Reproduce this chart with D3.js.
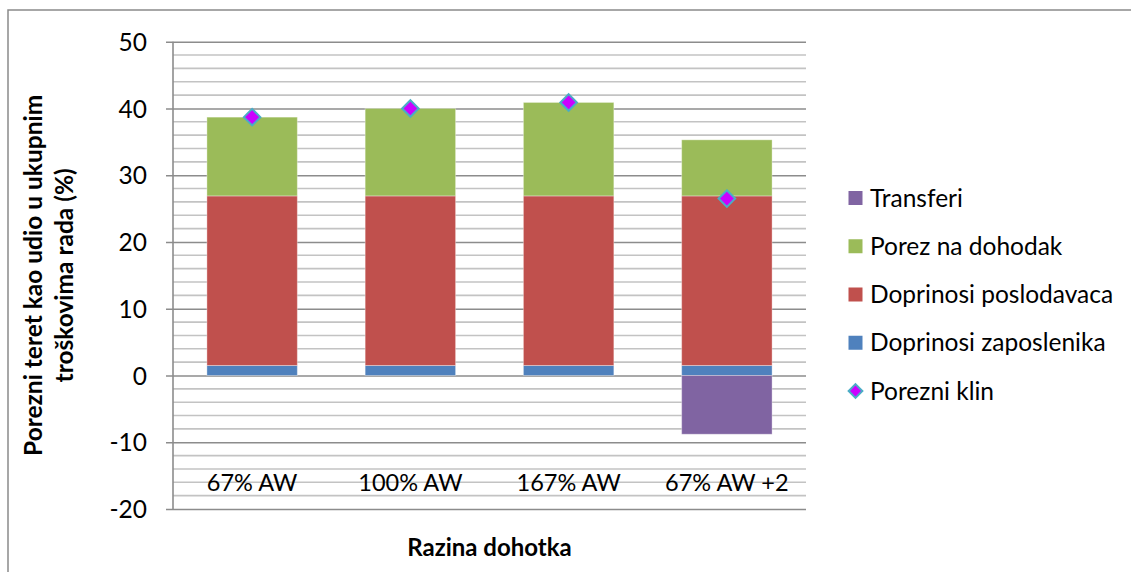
<!DOCTYPE html>
<html>
<head>
<meta charset="utf-8">
<script src="https://cdn.jsdelivr.net/npm/d3@7"></script>
<style>
  html, body { margin: 0; padding: 0; background: #fff; }
  svg { display: block; font-family: Lato, "Open Sans", sans-serif; }
</style>
</head>
<body>
<svg id="chart" width="1131" height="572"></svg>
<script>
const categories = ["67% AW", "100% AW", "167% AW", "67% AW +2"];
const doprinosiZaposlenika = [1.5, 1.5, 1.5, 1.5];
const doprinosiPoslodavaca = [25.4, 25.4, 25.4, 25.4];
const porezNaDohodak = [11.8, 13.1, 14.0, 8.4];
const transferi = [0, 0, 0, -8.8];
const porezniKlin = [38.7, 40.0, 40.9, 26.5];
const yTicks = [-20, -10, 0, 10, 20, 30, 40, 50];
const seriesNames = ["Doprinosi zaposlenika", "Doprinosi poslodavaca", "Porez na dohodak", "Transferi"];
const legendNames = ["Transferi", "Porez na dohodak", "Doprinosi poslodavaca", "Doprinosi zaposlenika", "Porezni klin"];
const yTitleLines = ["Porezni teret kao udio u ukupnim", "troškovima rada (%)"];
const xTitle = "Razina dohotka";

const colors = {
  "Doprinosi zaposlenika": "#4f81bd",
  "Doprinosi poslodavaca": "#c0504d",
  "Porez na dohodak": "#9bbb59",
  "Transferi": "#8064a2"
};

const rows = categories.map((c, i) => ({
  cat: c,
  "Doprinosi zaposlenika": doprinosiZaposlenika[i],
  "Doprinosi poslodavaca": doprinosiPoslodavaca[i],
  "Porez na dohodak": porezNaDohodak[i],
  "Transferi": transferi[i],
  klin: porezniKlin[i]
}));

const svg = d3.select("#chart");
const plot = { left: 173, right: 806, top: 41.7, bottom: 509 };

// chart frame
svg.append("rect")
  .attr("x", 8).attr("y", 10).attr("width", 1140).attr("height", 600)
  .attr("fill", "none").attr("stroke", "#8a8a8a").attr("stroke-width", 1.5);

const x = d3.scaleBand().domain(categories)
  .range([plot.left, plot.right])
  .paddingInner(0.75 / 1.75).paddingOuter(0.375 / 1.75);
const y = d3.scaleLinear().domain([-20, 50]).range([plot.bottom, plot.top]);

// minor gridlines
const minor = d3.range(-20, 51, 2).filter(v => v % 10 !== 0);
svg.append("g").selectAll("line").data(minor).join("line")
  .attr("x1", plot.left).attr("x2", plot.right)
  .attr("y1", d => y(d)).attr("y2", d => y(d))
  .attr("stroke", "#c3c3c3").attr("stroke-width", 1.6);

// major gridlines via axis
const yAxis = d3.axisLeft(y).tickValues(yTicks).tickSize(-(plot.right - plot.left)).tickPadding(0)
  .tickFormat(d => String(d));
const gY = svg.append("g").attr("transform", `translate(${plot.left},0)`).call(yAxis);
gY.select(".domain").remove();
gY.selectAll(".tick line").attr("stroke", "#8c8c8c").attr("stroke-width", 1.6).attr("x1", -7);
gY.selectAll(".tick text").attr("x", -26).attr("dy", "0.35em")
  .attr("font-size", 24.5).attr("fill", "#000").attr("font-family", "Lato, sans-serif");

// vertical axis line
svg.append("line").attr("x1", plot.left).attr("x2", plot.left)
  .attr("y1", plot.top).attr("y2", plot.bottom)
  .attr("stroke", "#8c8c8c").attr("stroke-width", 1.6);

// stacked bars
const stack = d3.stack().keys(seriesNames).offset(d3.stackOffsetDiverging);
const stacked = stack(rows);
svg.append("g").selectAll("g").data(stacked).join("g")
  .attr("fill", d => colors[d.key])
  .selectAll("rect").data(d => d).join("rect")
  .attr("x", d => x(d.data.cat))
  .attr("width", x.bandwidth())
  .attr("y", d => y(Math.max(d[0], d[1])))
  .attr("height", d => Math.abs(y(d[0]) - y(d[1])))
  .attr("stroke", "rgba(255,255,255,0.35)").attr("stroke-width", 1);

// category labels
svg.append("g").selectAll("text").data(categories).join("text")
  .attr("x", d => x(d) + x.bandwidth() / 2)
  .attr("y", plot.bottom - 26)
  .attr("dy", "0.35em")
  .attr("text-anchor", "middle")
  .attr("font-size", 23.5)
  .text(d => d);

// Porezni klin markers
const diamond = d3.symbol().type(d3.symbolDiamond2).size(175);
svg.append("g").selectAll("path").data(rows).join("path")
  .attr("d", diamond)
  .attr("transform", d => `translate(${x(d.cat) + x.bandwidth() / 2},${y(d.klin)})`)
  .attr("fill", "#cc00ff").attr("stroke", "#4bacc6").attr("stroke-width", 2);

// y title
const yt = svg.append("text")
  .attr("transform", `translate(49,${(plot.top + plot.bottom) / 2}) rotate(-90)`)
  .attr("text-anchor", "middle").attr("font-weight", "bold").attr("font-size", 24.5);
yt.selectAll("tspan").data(yTitleLines).join("tspan")
  .attr("x", 0).attr("dy", (d, i) => i === 0 ? "-0.3em" : "1.3em").text(d => d);

// x title
svg.append("text").attr("x", (plot.left + plot.right) / 2).attr("y", 548)
  .attr("dy", "0.35em").attr("text-anchor", "middle")
  .attr("font-weight", "bold").attr("font-size", 24).text(xTitle);

// legend
const lg = svg.append("g");
const legendY = d3.scalePoint().domain(legendNames).range([198, 391]);
legendNames.forEach(name => {
  const cy = legendY(name);
  if (name === "Porezni klin") {
    lg.append("path").attr("d", d3.symbol().type(d3.symbolDiamond2).size(120))
      .attr("transform", `translate(855.5,${cy})`)
      .attr("fill", "#cc00ff").attr("stroke", "#4bacc6").attr("stroke-width", 2);
  } else {
    lg.append("rect").attr("x", 848.5).attr("y", cy - 7).attr("width", 14).attr("height", 14)
      .attr("fill", colors[name]);
  }
  lg.append("text").attr("x", 870).attr("y", cy).attr("dy", "0.35em")
    .attr("font-size", 24.5).text(name);
});
</script>
</body>
</html>
